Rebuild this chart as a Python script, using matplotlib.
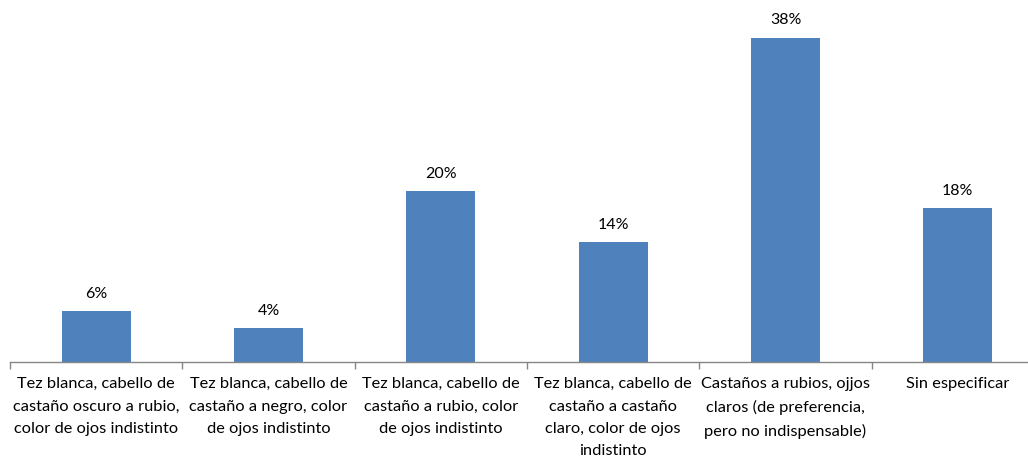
import matplotlib
matplotlib.use("Agg")
import matplotlib.pyplot as plt

categories = [
    "Tez blanca, cabello de\ncastaño oscuro a rubio,\ncolor de ojos indistinto",
    "Tez blanca, cabello de\ncastaño a negro, color\nde ojos indistinto",
    "Tez blanca, cabello de\ncastaño a rubio, color\nde ojos indistinto",
    "Tez blanca, cabello de\ncastaño a castaño\nclaro, color de ojos\nindistinto",
    "Castaños a rubios, ojjos\nclaros (de preferencia,\npero no indispensable)",
    "Sin especificar",
]
values = [6, 4, 20, 14, 38, 18]

plt.rcParams['font.family'] = ['Lato', 'DejaVu Sans']

W, H = 1028, 462
fig = plt.figure(figsize=(W / 100, H / 100), dpi=100)
# axes runs past the right edge, as in the reference (cropped)
ax = fig.add_axes([10 / W, (H - 362) / H, 1034 / W, 362 / H])

x = list(range(len(values)))
bars = ax.bar(x, values, width=0.4, color="#4F81BD", zorder=2)
ax.set_xlim(-0.5, len(values) - 0.5)
ax.set_ylim(0, 42.4)

for b, v in zip(bars, values):
    ax.text(b.get_x() + b.get_width() / 2, v + 1.2, f"{v}%",
            ha="center", va="bottom", fontsize=11.5, color="#000000")

for s in ["top", "right", "left"]:
    ax.spines[s].set_visible(False)
ax.spines["bottom"].set_color("#868686")
ax.spines["bottom"].set_linewidth(1)
ax.set_yticks([])

ax.set_xticks([i - 0.5 for i in range(len(values) + 1)], minor=False)
ax.set_xticklabels([])
ax.tick_params(axis="x", direction="out", length=5, color="#868686", width=1)
ax.set_xticks(x, minor=True)
ax.set_xticklabels(categories, minor=True, fontsize=11.8, linespacing=1.75,
                   va="top", ha="center")
ax.tick_params(axis="x", which="minor", length=0, pad=11)

fig.savefig("out.png", dpi=100)
